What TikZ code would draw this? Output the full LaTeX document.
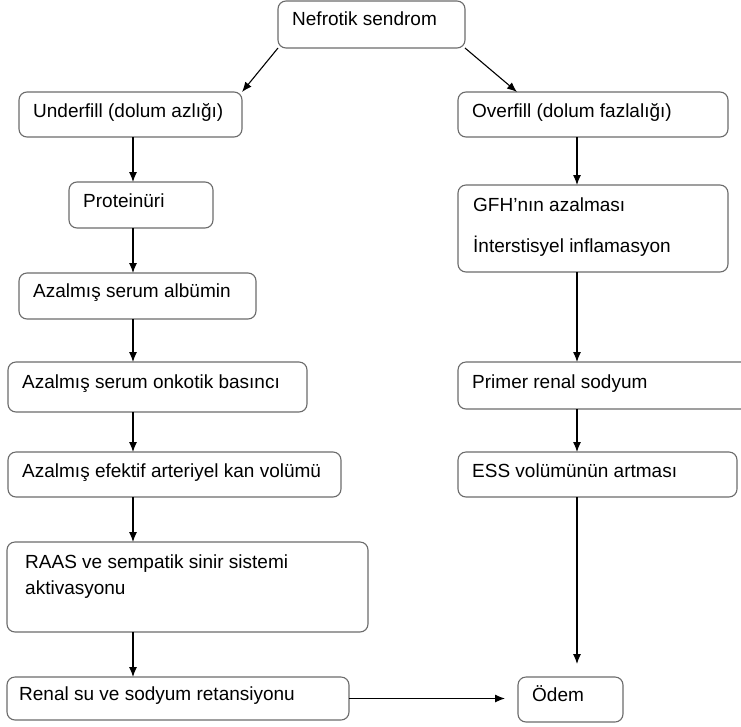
\documentclass[tikz,border=0pt]{standalone}
\usepackage{fontspec}
\setmainfont{Liberation Sans}
\usetikzlibrary{arrows.meta,calc}
\begin{document}
\begin{tikzpicture}[x=1pt,y=-1pt,
  box/.style={draw=black!58, line width=1.1pt, rounded corners=8pt, anchor=north west, inner sep=0pt, outer sep=0pt},
  txt/.style={anchor=base west, inner sep=0pt, font=\fontsize{19pt}{23pt}\selectfont},
  arr/.style={draw=black, line width=1.1pt, -{Latex[length=10pt,width=8pt]}}]
\useasboundingbox (0,0) rectangle (741,726);
\clip (0,0) rectangle (741,726);
\coordinate (xl) at (133,0);
\coordinate (xr) at (577,0);
% boxes
\node[box, minimum width=187pt, minimum height=47pt] (nef) at (278,1) {};
\node[box, minimum width=223pt, minimum height=45pt] (under) at (19,92) {};
\node[box, minimum width=144pt, minimum height=46pt] (prot) at (69,182) {};
\node[box, minimum width=237pt, minimum height=46pt] (alb) at (19,273) {};
\node[box, minimum width=299pt, minimum height=50pt] (onk) at (8,362) {};
\node[box, minimum width=333pt, minimum height=45pt] (efe) at (8,452) {};
\node[box, minimum width=361pt, minimum height=90pt] (raas) at (7,542) {};
\node[box, minimum width=342pt, minimum height=43pt] (renal) at (7,677) {};
\node[box, minimum width=270pt, minimum height=45pt] (over) at (458,92) {};
\node[box, minimum width=270pt, minimum height=87pt] (gfh) at (458,185) {};
\node[box, minimum width=302pt, minimum height=47pt] (prim) at (458,362) {};
\node[box, minimum width=279pt, minimum height=45pt] (ess) at (458,452) {};
\node[box, minimum width=105pt, minimum height=45pt] (odem) at (518,677) {};
% texts
\node[txt] (tnef) at (292,25) {Nefrotik sendrom};
\node[txt] (tunder) at (33,117) {Underfill (dolum azlığı)};
\node[txt] (tprot) at (83,207) {Proteinüri};
\node[txt] (talb) at (33,297) {Azalmış serum albümin};
\node[txt] (tonk) at (22,388) {Azalmış serum onkotik basıncı};
\node[txt] (tefe) at (22,477) {Azalmış efektif arteriyel kan volümü};
\node[txt] (traas1) at (25,568) {RAAS ve sempatik sinir sistemi};
\node[txt] (traas2) at (25,594) {aktivasyonu};
\node[txt] (trenal) at (19,700) {Renal su ve sodyum retansiyonu};
\node[txt] (tover) at (472,117) {Overfill (dolum fazlalığı)};
\node[txt] (tgfh1) at (473,211) {GFH’nın azalması};
\node[txt] (tgfh2) at (473,252) {İnterstisyel inflamasyon};
\node[txt] (tprim) at (472,388) {Primer renal sodyum};
\node[txt] (tess) at (472,477) {ESS volümünün artması};
\node[txt] (todem) at (532,701) {Ödem};
% arrows
\draw[arr] (nef.south west) -- (under.north east);
\draw[arr] (nef.south east) -- ($(over.north west)+(59,0)$);
\draw[arr] (under.south -| xl) -- (prot.north -| xl);
\draw[arr] (prot.south -| xl) -- (alb.north -| xl);
\draw[arr] (alb.south -| xl) -- (onk.north -| xl);
\draw[arr] (onk.south -| xl) -- (efe.north -| xl);
\draw[arr] (efe.south -| xl) -- (raas.north -| xl);
\draw[arr] (raas.south -| xl) -- (renal.north -| xl);
\draw[arr, shorten >=13pt] (renal.east) -- (odem.west |- renal.east);
\draw[arr] (over.south -| xr) -- (gfh.north -| xr);
\draw[arr] (gfh.south -| xr) -- (prim.north -| xr);
\draw[arr] (prim.south -| xr) -- (ess.north -| xr);
\draw[arr, shorten >=13pt] (ess.south -| xr) -- (odem.north -| xr);
\end{tikzpicture}
\end{document}
